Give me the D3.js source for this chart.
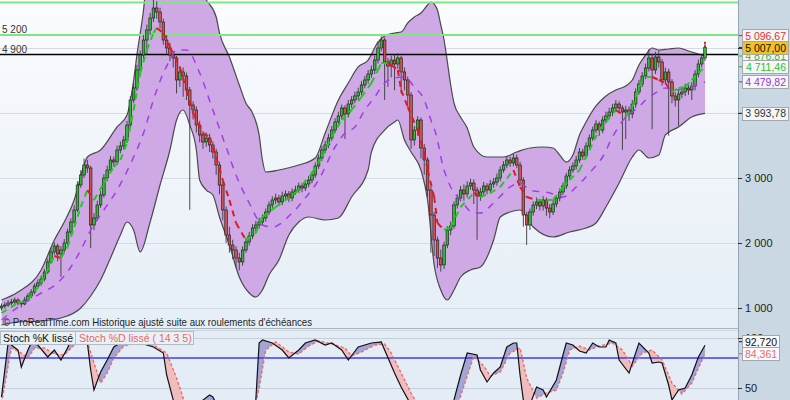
<!DOCTYPE html>
<html><head><meta charset="utf-8">
<script src="https://cdn.jsdelivr.net/npm/d3@7/dist/d3.min.js"></script>
<style>html,body{margin:0;padding:0;background:#fff;overflow:hidden}svg{display:block}text{font-family:"Liberation Sans",Arial,sans-serif}</style>
</head><body>
<svg id="chart" width="790" height="400"></svg>
<script>
// ---------------- DATA ----------------
const closes=[1030,1046,1077,1092,1123,1077,1062,1123,1185,1246,
1338,1385,1446,1554,1708,1862,1954,1831,1892,2000,
2169,2323,2508,2892,3046,3200,3154,2277,2385,2585,
2738,3000,3123,3277,3246,3431,3492,3585,3815,4200,
4385,4662,4892,5123,5277,5462,5615,5554,5400,5123,
5000,4892,4846,4508,4631,4569,4354,4123,4046,3815,
3662,3554,3615,3508,3400,3200,2892,2508,2123,1969,
1892,1769,1708,1892,2015,2108,2231,2277,2323,2385,
2477,2585,2662,2692,2631,2723,2754,2692,2785,2815,
2877,2846,2908,2969,3046,3185,3308,3431,3508,3615,
3738,3862,3954,4077,3985,4138,4200,4262,4323,4431,
4508,4600,4662,4815,5000,5123,4785,4723,4815,4754,
4846,4631,4508,4277,3585,3738,3892,3462,3277,2815,
2431,2046,1769,1662,1969,2200,2262,2585,2692,2815,
2754,2877,2923,2815,2723,2785,2877,2815,2908,2938,
3000,3123,3200,3277,3231,3308,3200,2969,2431,2277,
2477,2585,2631,2569,2662,2538,2477,2600,2692,2785,
2877,3031,3123,3185,3277,3400,3338,3492,3615,3738,
3831,3738,3892,3954,4015,4077,4138,4077,4015,4046,
3985,4138,4323,4446,4569,4692,4846,4662,4862,4785,
4508,4631,4477,4262,4200,4292,4323,4385,4354,4415,
4600,4754,4846,5007];
const opens=[1000,1030,1046,1077,1092,1123,1077,1062,1123,1185,
1246,1338,1385,1446,1554,1708,1862,1954,1831,1892,
2000,2169,2323,2508,2892,3046,3200,3154,2277,2385,
2585,2738,3000,3123,3277,3246,3431,3492,3585,3815,
4200,4385,4662,4892,5123,5277,5462,5615,5554,5400,
5123,5000,4892,4846,4508,4631,4569,4354,4123,4046,
3815,3662,3554,3615,3508,3400,3200,2892,2508,2123,
1969,1892,1769,1708,1892,2015,2108,2231,2277,2323,
2385,2477,2585,2662,2692,2631,2723,2754,2692,2785,
2815,2877,2846,2908,2969,3046,3185,3308,3431,3508,
3615,3738,3862,3954,4077,3985,4138,4200,4262,4323,
4431,4508,4600,4662,4815,5000,5123,4785,4723,4815,
4754,4846,4631,4508,4277,3585,3738,3892,3462,3277,
2815,2431,2046,1769,1662,1969,2200,2262,2585,2692,
2815,2754,2877,2923,2815,2723,2785,2877,2815,2908,
2938,3000,3123,3200,3277,3231,3308,3200,2969,2431,
2277,2477,2585,2631,2569,2662,2538,2477,2600,2692,
2785,2877,3031,3123,3185,3277,3400,3338,3492,3615,
3738,3831,3738,3892,3954,4015,4077,4138,4077,4015,
4046,3985,4138,4323,4446,4569,4692,4846,4662,4862,
4785,4508,4631,4477,4262,4200,4292,4323,4385,4354,
4415,4600,4754,4846];
const highs=[1070,1090,1120,1140,1160,1150,1100,1170,1230,1290,
1380,1440,1500,1600,1760,1920,2010,1990,1950,2060,
2220,2380,2580,2950,3120,3300,3280,3190,2460,2650,
2800,3060,3190,3340,3330,3500,3560,3650,3880,4260,
4460,4740,4960,5200,5360,5540,5760,5720,5620,5450,
5200,5080,4950,4880,4720,4700,4620,4400,4180,4100,
3880,3720,3700,3680,3560,3450,3250,2950,2560,2250,
2050,1950,1850,1950,2080,2170,2290,2340,2390,2440,
2530,2640,2720,2760,2740,2790,2810,2800,2840,2880,
2930,2920,2960,3030,3100,3240,3360,3490,3570,3680,
3800,3920,4020,4130,4120,4200,4260,4330,4390,4490,
4570,4660,4730,4880,5100,5180,5160,4850,4880,4900,
4920,4880,4700,4560,4320,3800,3950,3930,3520,3320,
2870,2480,2100,1900,2020,2260,2330,2640,2750,2880,
2900,2950,2990,2980,2860,2850,2940,2920,2970,3000,
3070,3180,3260,3340,3330,3370,3360,3250,3010,2480,
2530,2640,2700,2680,2720,2700,2600,2660,2740,2840,
2930,3080,3180,3240,3340,3460,3450,3550,3670,3790,
3890,3870,3950,4020,4080,4140,4200,4180,4120,4110,
4100,4200,4380,4510,4630,4760,4980,4900,4940,4960,
4830,4700,4680,4520,4320,4360,4390,4450,4430,4480,
4660,4820,4910,5090];
const lows=[960,990,1020,1040,1060,1040,1010,1040,1100,1150,
1210,1300,1340,1410,1520,1680,1820,1720,1480,1850,
1960,2130,2290,2480,2850,3000,3080,1920,2200,2340,
2540,2700,2950,3080,3170,3200,3380,3440,3540,3780,
4150,4340,4600,4820,4900,5200,5400,5450,5300,5050,
4900,4800,4700,4300,4400,4250,4200,2510,3900,3700,
3550,3450,3480,3400,3300,3050,2750,2350,2000,1850,
1750,1620,1580,1650,1850,1960,2060,2180,2220,2270,
2330,2430,2540,2600,2570,2580,2670,2630,2640,2740,
2770,2780,2800,2860,2920,3000,3140,3260,3380,3460,
3570,3690,3800,3900,3600,3930,4080,4150,4200,4270,
4380,4450,4540,4600,4760,4950,4200,4400,4550,4350,
4680,4300,4350,4100,3450,3500,3650,3300,3050,2700,
1850,1800,1620,1560,1600,1920,2120,2220,2530,2640,
2650,2700,2820,2600,2050,2650,2730,2750,2760,2850,
2880,2950,3080,3150,3170,3180,3150,2880,2250,1970,
2200,2420,2520,2500,2500,2420,2380,2430,2550,2640,
2740,2830,2980,3080,3130,3230,3280,3300,3440,3570,
3690,3650,3690,3840,3900,3950,4020,4000,3430,3600,
3880,3920,4080,4280,4400,4520,4640,3750,4600,4700,
4420,4450,3650,4150,4100,3800,4230,4260,4280,4200,
4350,4550,4700,4800];

const upperIdx=[0,5,12,16,19,22,25,26,30,35,38,40,41,43,44,53,62,65,66,69,72,74,76,78,79,80,84,90,95,98,102,105,108,111,114,116,119,121,123,125,127,129,130,131,132,133,134,135,136,137,139,141,143,147,152,156,160,164,167,169,171,173,175,177,180,183,186,189,191,193,195,197,199,202,205,208,211,213];
const upperBand=[1123,1246,1585,2046,2323,2662,3200,3323,3431,3785,3969,4500,4892,5585,6046,6354,5738,5477,5231,4862,4431,4154,4000,3662,3277,3092,3123,3200,3308,3692,4200,4462,4708,4815,5092,5185,5231,5246,5385,5477,5538,5662,5708,5677,5585,5354,5123,4785,4431,4154,3938,3769,3477,3323,3323,3400,3462,3477,3462,3354,3246,3354,3662,3862,4108,4262,4354,4415,4508,4738,4892,5000,4969,4985,5000,4954,4908,4877];
const lowerIdx=[0,5,12,18,24,27,30,33,36,38,40,42,45,48,51,53,55,57,59,60,62,64,66,69,72,75,77,79,81,84,87,90,93,98,102,106,111,112,116,119,120,122,124,127,129,131,133,135,137,139,142,145,149,151,154,157,161,167,172,177,180,183,187,191,193,196,199,201,205,209,213];
const lowerBand=[738,785,800,846,1000,1185,1431,1769,2123,2323,2200,1862,2323,2892,3431,3892,4046,3815,3431,2969,2815,2738,2400,1969,1477,1231,1169,1277,1508,1738,2123,2323,2400,2354,2385,2708,3123,3400,3738,3862,3892,3585,3400,3123,2662,1662,1277,1123,1277,1477,1585,1631,2046,2400,2477,2508,2246,2092,2169,2231,2308,2554,2923,3323,3431,3308,3354,3662,3785,3938,3993.78];
const slowIdx=[0,5,12,17,21,24,27,31,35,40,43,46,49,51,53,56,60,64,68,71,75,79,82,88,92,96,101,104,107,110,113,116,119,122,125,128,130,132,133,136,139,143,145,149,154,157,160,166,170,174,178,182,185,189,193,195,198,201,204,207,213];
const slowMA=[815,1015,1231,1385,1631,1892,2200,2508,2815,3323,3692,4200,4615,4815,4969,4969,4615,4046,3477,3046,2615,2277,2246,2462,2692,2969,3477,3692,3785,4046,4246,4462,4538,4554,4400,4200,3892,3585,3323,2862,2662,2462,2462,2615,2862,2923,2815,2769,2708,2862,3077,3323,3631,3938,4092,4200,4308,4385,4354,4385,4479.82];
const fastIdx=[0,5,8,12,15,16,18,20,22,24,26,28,31,34,36,38,40,42,44,46,47,49,51,54,56,58,61,63,64,65,67,69,71,74,77,79,83,89,94,97,100,103,106,109,112,114,115,117,118,120,121,123,126,128,129,131,132,134,136,139,143,145,148,151,155,157,159,162,165,167,170,172,175,178,181,186,189,191,193,195,197,199,201,203,205,207,209,211,213];
const fastMA=[923,1077,1123,1385,1692,1800,1770,1938,2246,2554,2815,2662,2923,3169,3277,3538,4046,4615,4969,5231,5308,5231,5015,4708,4354,4000,3692,3631,3477,3323,2969,2662,2308,2046,2154,2400,2554,2769,3077,3323,3631,3892,4046,4246,4462,4662,4769,4769,4738,4662,4354,4092,3738,3385,3123,2708,2308,2200,2246,2554,2769,2708,2769,2862,3123,2862,2708,2662,2662,2662,2862,2969,3123,3431,3738,4046,3938,4092,4400,4554,4554,4508,4462,4323,4385,4400,4508,4615,4711.46];

const kIdx=[0,2,3,5,6,8,9,11,14,16,18,20,21,24,26,27,28,30,32,34,36,39,42,46,49,50,52,54,59,61,63,64,66,71,75,77,78,79,82,85,87,90,92,95,98,100,103,105,108,112,115,116,119,121,124,130,136,137,139,141,144,145,147,149,151,153,155,156,157,158,160,162,164,165,168,170,171,173,175,177,179,181,183,184,186,187,190,193,196,197,199,200,202,203,205,207,209,211,213];
const stochK=[41,95,93,88,71,88,95,93,81,88,78,90,98,97,95,68,48,66,78,91,95,96,95,91,85,63,38,23,18,38,43,41,28,23,18,38,95,98,95,88,80,88,95,98,93,95,88,78,91,95,96,88,65,51,33,18,28,38,63,85,83,68,56,65,71,91,95,95,63,38,33,51,48,41,58,83,95,93,87,85,95,91,91,98,95,78,65,95,85,75,76,75,53,38,48,50,63,81,92.72];
const dIdx=[0,3,6,8,10,13,16,19,22,26,28,30,32,34,37,41,46,50,53,56,60,63,66,70,76,78,80,83,87,90,93,96,100,104,106,109,113,116,118,121,124,128,135,138,141,143,146,148,151,154,157,159,162,165,168,170,172,175,178,181,185,188,191,194,197,200,203,206,209,211,213];
const stochD=[35,90,85,80,90,90,84,83,93,96,75,55,65,80,92,95,93,85,60,30,20,35,36,25,20,50,88,96,86,84,92,97,94,90,82,86,93,94,85,65,45,22,20,32,62,82,72,62,66,85,90,60,40,45,48,65,88,92,88,92,95,88,72,85,88,78,55,44,55,70,84.361];

const priceTicks=[1000,2000,3000,4000,5000];
const stochTicks=[50,100];
const greenLevels=[5700,5200];
const blackLevel=4900;
const textLevels=[5200,4900];
const stochLevel=80;
const lastHigh=5096.67;
const priceLabelValues=[5096.67,5007.00,4876.81,4711.46,4479.82,3993.78];
const priceLabelKinds=["high","last","upper","fast","slow","lower"];
const stochLabelValues=[92.72,84.361];
const stochLabelKinds=["k","d"];
const creditText="\u00a9 ProRealTime.com  Historique ajust\u00e9 suite aux roulements d'\u00e9ch\u00e9ances";
const legendK="Stoch %K liss\u00e9";
const legendD="Stoch %D liss\u00e9 ( 14 3 5)";

// ---------------- RENDER ----------------
const W=790,H=400,PR=738,MB=328,ST=331,SB=400;
const svg=d3.select("#chart");
const defs=svg.append("defs");
const fr=d3.formatLocale({decimal:",",thousands:" ",grouping:[3],currency:["","\u20ac"]});
const fmt0=fr.format(",.0f"), fmt2=fr.format(",.2f"), fmt3=fr.format(",.3f");

const grad=defs.append("linearGradient").attr("id","bg").attr("x1",0).attr("y1",0).attr("x2",0).attr("y2",1);
grad.append("stop").attr("offset","0%").attr("stop-color","#fbfcfe");
grad.append("stop").attr("offset","100%").attr("stop-color","#e5eef6");
svg.append("rect").attr("width",PR).attr("height",330).attr("fill","url(#bg)");
svg.append("rect").attr("y",330).attr("width",PR).attr("height",SB-330).attr("fill","#e4edf5");
svg.append("rect").attr("x",PR).attr("width",W-PR).attr("height",H).attr("fill","#c9d8e3");
svg.append("line").attr("x1",PR+0.5).attr("x2",PR+0.5).attr("y1",0).attr("y2",H).attr("stroke","#97a6b2");

const x=d3.scaleLinear().domain([0,closes.length-1]).range([1.5,705]);
const y=d3.scaleLinear().domain([1000,5000]).range([308,48]);
const ys=d3.scaleLinear().domain([50,100]).range([388,338]);

defs.append("clipPath").attr("id","cm").append("rect").attr("width",PR).attr("height",MB);
defs.append("clipPath").attr("id","cs").append("rect").attr("y",ST).attr("width",PR).attr("height",SB-ST);

const gm=svg.append("g").attr("clip-path","url(#cm)");
gm.selectAll("line.grid").data(priceTicks).join("line").attr("class","grid")
  .attr("x1",0).attr("x2",PR).attr("y1",d=>Math.round(y(d))+0.5).attr("y2",d=>Math.round(y(d))+0.5)
  .attr("stroke","#d3dce5");

// envelope
const ui=d3.range(upperIdx.length), li=d3.range(lowerIdx.length);
const upperArea=d3.area().x(i=>x(upperIdx[i])).y0(MB+20).y1(i=>y(upperBand[i])).curve(d3.curveMonotoneX);
const lowerTop=d3.area().x(i=>x(lowerIdx[i])).y0(-200).y1(i=>y(lowerBand[i])).curve(d3.curveMonotoneX);
defs.append("clipPath").attr("id","lowc").append("path").attr("d",lowerTop(li));
gm.append("g").attr("clip-path","url(#lowc)").append("path").attr("d",upperArea(ui)).attr("fill","#cfa8e6");
gm.append("path").attr("d",d3.line().x(i=>x(upperIdx[i])).y(i=>y(upperBand[i])).curve(d3.curveMonotoneX)(ui))
  .attr("fill","none").attr("stroke","#4a4a4a").attr("stroke-width",1.2);
gm.append("path").attr("d",d3.line().x(i=>x(lowerIdx[i])).y(i=>y(lowerBand[i])).curve(d3.curveMonotoneX)(li))
  .attr("fill","none").attr("stroke","#4a4a4a").attr("stroke-width",1.2);

// level lines
gm.selectAll("line.lvl").data(greenLevels).join("line").attr("class","lvl")
  .attr("x1",0).attr("x2",PR).attr("y1",d=>y(d)).attr("y2",d=>y(d)).attr("stroke","#80e680").attr("stroke-width",2);
gm.append("line").attr("x1",0).attr("x2",PR).attr("y1",y(blackLevel)).attr("y2",y(blackLevel)).attr("stroke","#000").attr("stroke-width",1.6);
gm.selectAll("text.lvl").data(textLevels).join("text").attr("class","lvl")
  .attr("x",2).attr("y",d=>y(d)-2).attr("font-size",10).attr("fill","#333").text(d=>fmt0(d));

// candles
const idx=d3.range(closes.length);
gm.selectAll("line.wick").data(idx).join("line").attr("class","wick")
  .attr("x1",i=>x(i)).attr("x2",i=>x(i)).attr("y1",i=>y(highs[i])).attr("y2",i=>y(lows[i]))
  .attr("stroke","#3a3a3a").attr("stroke-width",0.9);
gm.selectAll("rect.body").data(idx).join("rect").attr("class","body")
  .attr("x",i=>x(i)-1.3).attr("width",2.6)
  .attr("y",i=>y(Math.max(opens[i],closes[i])))
  .attr("height",i=>Math.max(0.8,Math.abs(y(opens[i])-y(closes[i]))))
  .attr("fill",i=>closes[i]>=opens[i]?"#2fbb2f":"#c9554e")
  .attr("stroke","#141414").attr("stroke-width",0.6);

// slow MA
const si=d3.range(slowIdx.length);
gm.append("path").attr("d",d3.line().x(i=>x(slowIdx[i])).y(i=>y(slowMA[i])).curve(d3.curveMonotoneX)(si))
  .attr("fill","none").attr("stroke","#a23ee6").attr("stroke-width",1.5).attr("stroke-dasharray","7,7");
// fast MA coloured by direction
const fseg=d3.range(fastIdx.length-1);
gm.selectAll("path.fast").data(fseg).join("path").attr("class","fast")
  .attr("d",k=>d3.line()([[x(fastIdx[k]),y(fastMA[k])],[x(fastIdx[k+1]),y(fastMA[k+1])]]))
  .attr("fill","none").attr("stroke",k=>fastMA[k+1]>=fastMA[k]?"#1ecb1e":"#e11b1b")
  .attr("stroke-width",2).attr("stroke-dasharray","6,5");
// last high marker
gm.append("line").attr("x1",x(closes.length-1)).attr("x2",x(closes.length-1))
  .attr("y1",y(lastHigh)).attr("y2",y(closes[closes.length-1])).attr("stroke","#e52222").attr("stroke-width",2).attr("stroke-dasharray","2,1.5");

// credits
svg.append("text").attr("x",3).attr("y",326).attr("font-size",10.5).attr("fill","#1e1e1e")
  .attr("textLength",309).attr("lengthAdjust","spacingAndGlyphs").text(creditText);
// separator
svg.append("line").attr("x1",0).attr("x2",PR).attr("y1",328.5).attr("y2",328.5).attr("stroke","#a9b5bf");
svg.append("line").attr("x1",0).attr("x2",PR).attr("y1",330.5).attr("y2",330.5).attr("stroke","#cbd5de");

// stochastic panel
const gs=svg.append("g").attr("clip-path","url(#cs)");
gs.selectAll("line.sg").data(stochTicks).join("line").attr("class","sg")
  .attr("x1",0).attr("x2",PR).attr("y1",d=>Math.round(ys(d))+0.5).attr("y2",d=>Math.round(ys(d))+0.5).attr("stroke","#c6d0da");
const ki=d3.range(kIdx.length), di=d3.range(dIdx.length);
const kBelow=d3.area().x(i=>x(kIdx[i])).y0(SB+100).y1(i=>ys(stochK[i]));
const dBelow=d3.area().x(i=>x(dIdx[i])).y0(SB+100).y1(i=>ys(stochD[i]));
const kAbove=d3.area().x(i=>x(kIdx[i])).y0(ST-100).y1(i=>ys(stochK[i]));
const dAbove=d3.area().x(i=>x(dIdx[i])).y0(ST-100).y1(i=>ys(stochD[i]));
defs.append("clipPath").attr("id","aboveD").append("path").attr("d",dAbove(di));
defs.append("clipPath").attr("id","aboveK").append("path").attr("d",kAbove(ki));
gs.append("g").attr("clip-path","url(#aboveD)").append("path").attr("d",kBelow(ki)).attr("fill","#a2a5d8");
gs.append("g").attr("clip-path","url(#aboveK)").append("path").attr("d",dBelow(di)).attr("fill","#f0bdbf");
gs.append("line").attr("x1",0).attr("x2",PR).attr("y1",ys(stochLevel)).attr("y2",ys(stochLevel)).attr("stroke","#3c3cf2").attr("stroke-width",1.3);
gs.append("path").attr("d",d3.line().x(i=>x(dIdx[i])).y(i=>ys(stochD[i]))(di))
  .attr("fill","none").attr("stroke","#f06a6a").attr("stroke-width",1.4).attr("stroke-dasharray","3,2");
gs.append("path").attr("d",d3.line().x(i=>x(kIdx[i])).y(i=>ys(stochK[i]))(ki))
  .attr("fill","none").attr("stroke","#111").attr("stroke-width",1.2);

// legend
const lg=svg.append("g");
lg.append("rect").attr("x",0.5).attr("y",331.5).attr("width",75).attr("height",13).attr("fill","#e9f0f6").attr("stroke","#b3bcc5");
lg.append("text").attr("x",3).attr("y",342).attr("font-size",10.5).attr("fill","#111").text(legendK);
lg.append("rect").attr("x",75.5).attr("y",331.5).attr("width",118).attr("height",13).attr("fill","#e9f0f6").attr("stroke","#b3bcc5");
lg.append("text").attr("x",79).attr("y",342).attr("font-size",10.5).attr("fill","#e66a6a").text(legendD);

// value label positions (computed first so the axis can skip hidden tick labels)
function placeLabels(vals,scale,fixedIdx){
  const pos=vals.map(v=>scale(v));
  for(let i=fixedIdx-1;i>=0;i--){ if(pos[i]>pos[i+1]-12) pos[i]=pos[i+1]-12; }
  return pos;
}
const pPos=placeLabels(priceLabelValues,y,1);
const sPos=placeLabels(stochLabelValues,ys,1);
const covered=(v,scale,positions)=>positions.some(p=>Math.abs(scale(v)-p)<7);

// axes
function styleAxis(g){g.select(".domain").remove();g.selectAll(".tick line").attr("stroke","#333");
  g.selectAll(".tick text").attr("font-size",11).attr("fill","#222").attr("font-family","Liberation Sans, Arial, sans-serif");}
svg.append("g").attr("transform",`translate(${PR},0)`)
  .call(d3.axisRight(y).tickValues(priceTicks).tickSize(4).tickPadding(3)
    .tickFormat(d=>covered(d,y,pPos)?"":fmt0(d))).call(styleAxis);
svg.append("g").attr("transform",`translate(${PR},0)`)
  .call(d3.axisRight(ys).tickValues(stochTicks).tickSize(4).tickPadding(3).tickFormat(fmt0)).call(styleAxis);

// value labels on the right
const labelStyle={high:{fill:"#f4f6f8",text:"#e53030",tick:"#e53030"},last:{fill:"#f3c21d",text:"#111",tick:"#333"},
  upper:{fill:"#f4f6f8",text:"#2fbf2f",tick:"#2fbf2f"},fast:{fill:"#f4f6f8",text:"#2fbf2f",tick:"#2fbf2f"},
  slow:{fill:"#f4f6f8",text:"#9b35d8",tick:"#9b35d8"},lower:{fill:"#f4f6f8",text:"#333",tick:"#333"},
  k:{fill:"#f7f9fb",text:"#111",tick:"#333"},d:{fill:"#f7f9fb",text:"#ee6a6a",tick:"#ee6a6a"}};
const drawOrder=[2,3,4,5,0,1];
drawOrder.forEach(i=>{
  const st=labelStyle[priceLabelKinds[i]], cy=pPos[i];
  svg.append("line").attr("x1",PR+1).attr("x2",PR+5).attr("y1",cy).attr("y2",cy).attr("stroke",st.tick).attr("stroke-width",1.2);
  svg.append("rect").attr("x",742.5).attr("y",Math.round(cy-6.5)+0.5).attr("width",46).attr("height",13)
    .attr("fill",st.fill).attr("stroke","#a3a8ad");
  svg.append("text").attr("x",786).attr("y",cy+4).attr("text-anchor","end").attr("font-size",10.5).attr("fill",st.text).text(fmt2(priceLabelValues[i]));
});
stochLabelValues.forEach((v,i)=>{
  const st=labelStyle[stochLabelKinds[i]], cy=sPos[i];
  svg.append("line").attr("x1",PR+1).attr("x2",PR+5).attr("y1",cy).attr("y2",cy).attr("stroke",st.tick).attr("stroke-width",1.2);
  svg.append("rect").attr("x",742.5).attr("y",Math.round(cy-6.5)+0.5).attr("width",37).attr("height",13)
    .attr("fill",st.fill).attr("stroke","#a3a8ad");
  svg.append("text").attr("x",745).attr("y",cy+4).attr("font-size",10.5).attr("fill",st.text).text(fmt3(v));
});
</script>
</body></html>
